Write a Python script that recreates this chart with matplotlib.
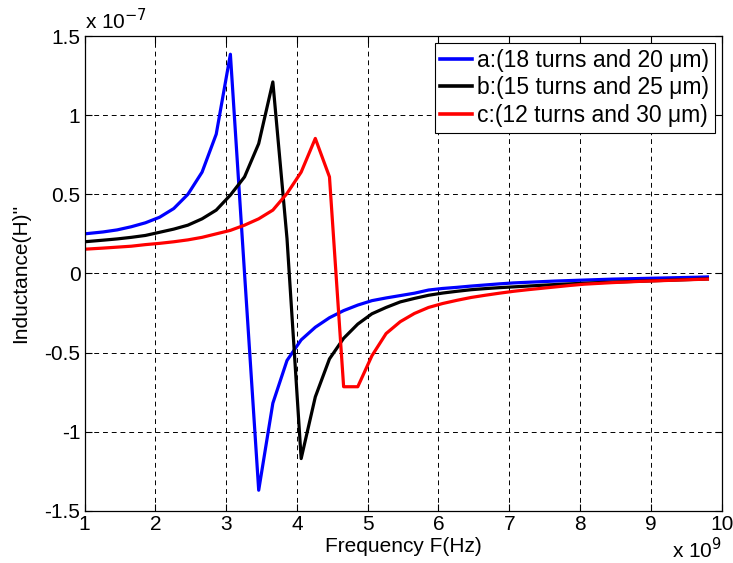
import matplotlib
matplotlib.use('Agg')
import matplotlib.pyplot as plt

# frequency in units of 1e9 Hz, inductance in units of 1e-7 H
freq = [1.0, 1.26, 1.46, 1.66, 1.86, 2.06, 2.26, 2.46, 2.66, 2.86,
        3.06, 3.26, 3.46, 3.66, 3.86, 4.06, 4.26, 4.46, 4.66, 4.86,
        5.06, 5.26, 5.46, 5.66, 5.86, 6.06, 6.26, 6.46, 6.66, 6.86,
        7.06, 7.26, 7.46, 7.66, 7.86, 8.06, 8.26, 8.46, 8.66, 8.86,
        9.06, 9.26, 9.46, 9.66, 9.8]

ind_a = [0.25, 0.262, 0.275, 0.295, 0.32, 0.355, 0.41, 0.50, 0.64, 0.88,
         1.385, 0.0, -1.37, -0.82, -0.55, -0.42, -0.34, -0.28, -0.235, -0.2,
         -0.172, -0.155, -0.14, -0.125, -0.105, -0.095, -0.088, -0.08, -0.073, -0.066,
         -0.06, -0.056, -0.052, -0.048, -0.045, -0.042, -0.039, -0.036, -0.034, -0.032,
         -0.03, -0.028, -0.026, -0.024, -0.022]

ind_b = [0.20, 0.21, 0.218, 0.228, 0.24, 0.26, 0.28, 0.305, 0.345, 0.40,
         0.495, 0.61, 0.82, 1.21, 0.22, -1.17, -0.78, -0.54, -0.41, -0.32,
         -0.255, -0.215, -0.18, -0.158, -0.138, -0.124, -0.113, -0.103, -0.096, -0.09,
         -0.085, -0.08, -0.075, -0.07, -0.066, -0.062, -0.058, -0.055, -0.052, -0.049,
         -0.046, -0.043, -0.04, -0.037, -0.035]

ind_c = [0.153, 0.16, 0.166, 0.172, 0.182, 0.19, 0.2, 0.212, 0.228, 0.25,
         0.272, 0.305, 0.345, 0.40, 0.505, 0.64, 0.853, 0.61, -0.716, -0.716,
         -0.52, -0.38, -0.305, -0.253, -0.215, -0.19, -0.17, -0.152, -0.138, -0.125,
         -0.113, -0.103, -0.094, -0.085, -0.076, -0.068, -0.063, -0.058, -0.054, -0.05,
         -0.047, -0.044, -0.041, -0.038, -0.036]

labels = ['a:(18 turns and 20 \u03bcm)', 'b:(15 turns and 25 \u03bcm)', 'c:(12 turns and 30 \u03bcm)']
colors = ['#0000ff', '#000000', '#ff0000']

xticks = [1, 2, 3, 4, 5, 6, 7, 8, 9, 10]
yticks = [-1.5, -1, -0.5, 0, 0.5, 1, 1.5]
yticklabels = ['-1.5', '-1', '-0.5', '0', '0.5', '1', '1.5']

plt.rcParams['font.family'] = ['Liberation Sans', 'DejaVu Sans']
fs = 15

fig = plt.figure(figsize=(7.33, 5.63), dpi=100)
ax = fig.add_axes([0.1154, 0.0927, 0.869, 0.8433])

for y, c, lab in zip([ind_a, ind_b, ind_c], colors, labels):
    ax.plot(freq, y, color=c, linewidth=2.3, label=lab)

ax.set_xlim(1, 10)
ax.set_ylim(-1.5, 1.5)
ax.set_xticks(xticks)
ax.set_xticklabels([str(t) for t in xticks], fontsize=fs)
ax.set_yticks(yticks)
ax.set_yticklabels(yticklabels, fontsize=fs)
ax.tick_params(direction='in', top=True, right=True, length=5, width=0.8, pad=3)
ax.grid(True, color='black', linestyle=(0, (5, 4)), linewidth=0.7)
for s in ax.spines.values():
    s.set_linewidth(0.9)

ax.set_xlabel('Frequency F(Hz)', fontsize=fs, labelpad=2)
ax.set_ylabel("Inductance(H)''", fontsize=fs, labelpad=10)

ax.text(0.0, 1.006, r'x 10$^{-7}$', transform=ax.transAxes, fontsize=fs,
        ha='left', va='bottom')
ax.text(1.0, -0.056, r'x 10$^{9}$', transform=ax.transAxes, fontsize=fs,
        ha='right', va='top')

leg = ax.legend(loc='upper right', fontsize=16.5, handlelength=1.4,
                handletextpad=0.2, borderpad=0.25, labelspacing=0.2,
                fancybox=False, framealpha=1, borderaxespad=0.3)
leg.get_frame().set_edgecolor('black')
leg.get_frame().set_linewidth(0.8)
for line in leg.get_lines():
    line.set_linewidth(2.6)

fig.savefig('out.png', dpi=100)
